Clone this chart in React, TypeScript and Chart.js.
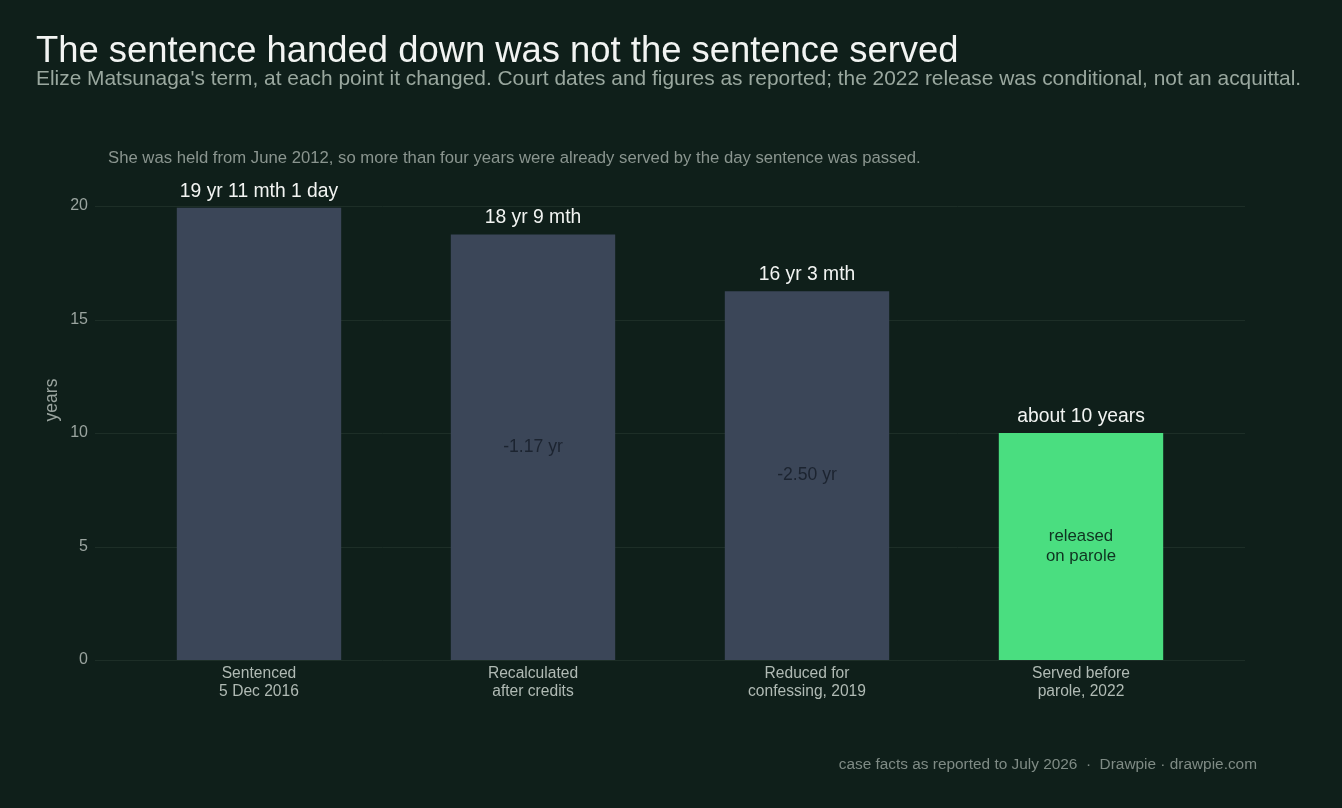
import React, { useEffect, useRef } from "react";
import { Chart, registerables } from "chart.js";

Chart.register(...registerables);

const categories: string[][] = [
  ["Sentenced", "5 Dec 2016"],
  ["Recalculated", "after credits"],
  ["Reduced for", "confessing, 2019"],
  ["Served before", "parole, 2022"],
];
const termYears: number[] = [19.92, 18.75, 16.25, 10];
const valueLabels: string[] = ["19 yr 11 mth 1 day", "18 yr 9 mth", "16 yr 3 mth", "about 10 years"];
const innerLabels: string[][] = [[], ["-1.17 yr"], ["-2.50 yr"], ["released", "on parole"]];
const barColors: string[] = ["#3b4658", "#3b4658", "#3b4658", "#4ade80"];
const innerColors: string[] = ["#1c2430", "#1c2430", "#1c2430", "#0f3320"];
const innerSizes: number[] = [17.6, 17.6, 17.6, 16.8];

const TITLE = "The sentence handed down was not the sentence served";
const SUBTITLE =
  "Elize Matsunaga's term, at each point it changed. Court dates and figures as reported; the 2022 release was conditional, not an acquittal.";
const NOTE =
  "She was held from June 2012, so more than four years were already served by the day sentence was passed.";
const FOOTER = "case facts as reported to July 2026  \u00b7  Drawpie \u00b7 drawpie.com";

const FONT = '"Liberation Sans", Arial, Helvetica, sans-serif';
const BG = "#0f1f1a";

const decorPlugin = {
  id: "decor",
  beforeDraw(chart: any) {
    const { ctx, width, height } = chart;
    ctx.save();
    ctx.fillStyle = BG;
    ctx.fillRect(0, 0, width, height);
    ctx.restore();
  },
  beforeDatasetsDraw(chart: any) {
    const { ctx, chartArea } = chart;
    const y = chart.scales.y;
    ctx.save();
    ctx.strokeStyle = "#1d2e27";
    ctx.lineWidth = 1;
    y.ticks.forEach((t: any) => {
      const py = Math.round(y.getPixelForValue(t.value)) + 0.5;
      ctx.beginPath();
      ctx.moveTo(chartArea.left - 27, py);
      ctx.lineTo(chartArea.right + 27, py);
      ctx.stroke();
    });
    ctx.restore();
  },
  afterDraw(chart: any) {
    const { ctx, chartArea } = chart;
    ctx.save();
    ctx.textAlign = "left";
    ctx.textBaseline = "alphabetic";
    ctx.fillStyle = "#f2f4f2";
    ctx.font = `36.4px ${FONT}`;
    ctx.fillText(TITLE, 36, 62);
    ctx.fillStyle = "#9aa89f";
    ctx.font = `20.9px ${FONT}`;
    ctx.fillText(SUBTITLE, 36, 85);
    ctx.fillStyle = "#8a958f";
    ctx.font = `16.7px ${FONT}`;
    ctx.fillText(NOTE, 108, 163);

    // y axis title
    ctx.save();
    ctx.translate(57, (chartArea.top + chartArea.bottom) / 2 - 33);
    ctx.rotate(-Math.PI / 2);
    ctx.textAlign = "center";
    ctx.fillStyle = "#9aa49f";
    ctx.font = `17.5px ${FONT}`;
    ctx.fillText("years", 0, 0);
    ctx.restore();

    // bar labels
    const meta = chart.getDatasetMeta(0);
    meta.data.forEach((bar: any, i: number) => {
      ctx.textAlign = "center";
      ctx.textBaseline = "alphabetic";
      ctx.fillStyle = "#f2f4f2";
      ctx.font = `19.3px ${FONT}`;
      ctx.fillText(valueLabels[i], bar.x, bar.y - 11);
      const lines = innerLabels[i];
      if (lines.length) {
        ctx.fillStyle = innerColors[i];
        ctx.font = `${innerSizes[i]}px ${FONT}`;
        ctx.textBaseline = "middle";
        const mid = (bar.y + bar.base) / 2;
        const lh = 20;
        lines.forEach((l, k) => {
          ctx.fillText(l, bar.x, mid + (k - (lines.length - 1) / 2) * lh);
        });
      }
    });

    // footer
    ctx.textAlign = "right";
    ctx.textBaseline = "alphabetic";
    ctx.fillStyle = "#7f8b85";
    ctx.font = `15.4px ${FONT}`;
    ctx.fillText(FOOTER, 1257, 769);
    ctx.restore();
  },
};

export default function App() {
  const ref = useRef<HTMLCanvasElement | null>(null);
  useEffect(() => {
    document.body.style.margin = "0";
    document.body.style.background = BG;
    const chart = new Chart(ref.current as HTMLCanvasElement, {
      type: "bar",
      data: {
        labels: categories,
        datasets: [
          {
            data: termYears,
            backgroundColor: barColors,
            borderWidth: 0,
            barPercentage: 0.6,
            categoryPercentage: 1,
          },
        ],
      },
      options: {
        animation: false,
        responsive: false,
        maintainAspectRatio: false,
        layout: { padding: { top: 206, right: 124, bottom: 88, left: 0 } },
        plugins: {
          legend: { display: false },
          tooltip: { enabled: false },
          title: { display: false },
        },
        scales: {
          x: {
            offset: true,
            grid: { display: false, drawTicks: false },
            border: { display: false },
            ticks: {
              color: "#b0bab4",
              font: { family: FONT, size: 15.6, lineHeight: 1.12 },
              padding: 5,
              maxRotation: 0,
              autoSkip: false,
            },
            afterFit: (s: any) => {
              s.height = 60;
            },
          },
          y: {
            min: 0,
            max: 20,
            grid: { display: false, drawTicks: false },
            border: { display: false },
            ticks: {
              stepSize: 5,
              color: "#9aa49f",
              font: { family: FONT, size: 16 },
              padding: 34,
            },
            afterFit: (s: any) => {
              s.width = 122;
            },
          },
        },
      },
      plugins: [decorPlugin],
    });
    return () => chart.destroy();
  }, []);
  return (
    <div style={{ width: 1342, height: 808, background: BG }}>
      <canvas ref={ref} width={1342} height={808} style={{ display: "block" }} />
    </div>
  );
}
